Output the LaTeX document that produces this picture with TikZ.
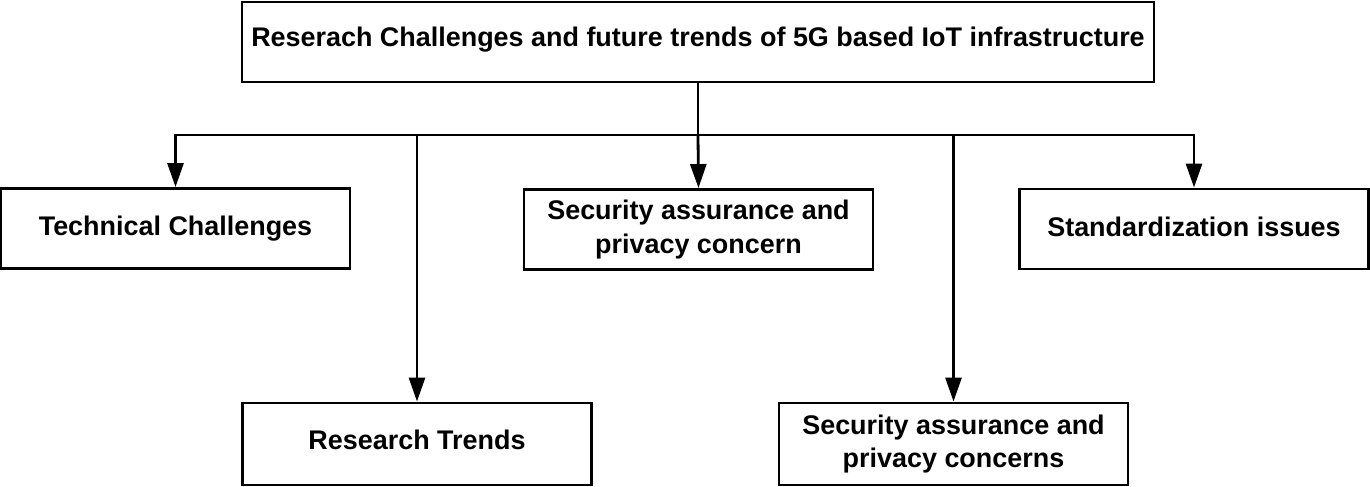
\documentclass[tikz,border=0pt]{standalone}
\usepackage{fontspec}
\setmainfont{Liberation Sans}
\usetikzlibrary{arrows.meta}

\begin{document}
\begin{tikzpicture}[x=0.75pt,y=0.75pt,yscale=-1,xscale=1,
  box/.style={draw,line width=2.2pt,minimum width=261.75pt,minimum height=60pt,
    inner sep=0pt,align=center,font=\fontsize{20.2}{25}\selectfont\bfseries},
  oneline/.style={box,text height=15pt,text depth=4.5pt},
  link/.style={line width=2.1pt,-{Triangle[length=18pt,width=12pt]}}]
  \useasboundingbox (0,0) rectangle (1370,486);
  \node [oneline,minimum width=684pt,text depth=9pt] (top) at (698,42) {Reserach Challenges and future trends of 5G based IoT infrastructure};
  \node [oneline] (tech) at (175.5,228.5) {Technical Challenges};
  \node [box] (secur) at (698.5,229.5) {Security assurance and\\privacy concern};
  \node [oneline] (stand) at (1194,229) {Standardization issues};
  \node [oneline,minimum height=61.5pt,text depth=6.5pt] (trend) at (417,444) {Research Trends};
  \node [box,minimum height=61.5pt] (concern) at (953.5,444) {Security assurance and\\privacy concerns};
  \coordinate (bus) at (698,135);
  \draw [line width=2.1pt] (top.south) -- (bus);
  \draw [link] (bus) -- (secur.north);
  \draw [link] (bus) -| (tech.north);
  \draw [link] (bus) -| (trend.north);
  \draw [link] (bus) -| (concern.north);
  \draw [link] (bus) -| (stand.north);
\end{tikzpicture}
\end{document}
